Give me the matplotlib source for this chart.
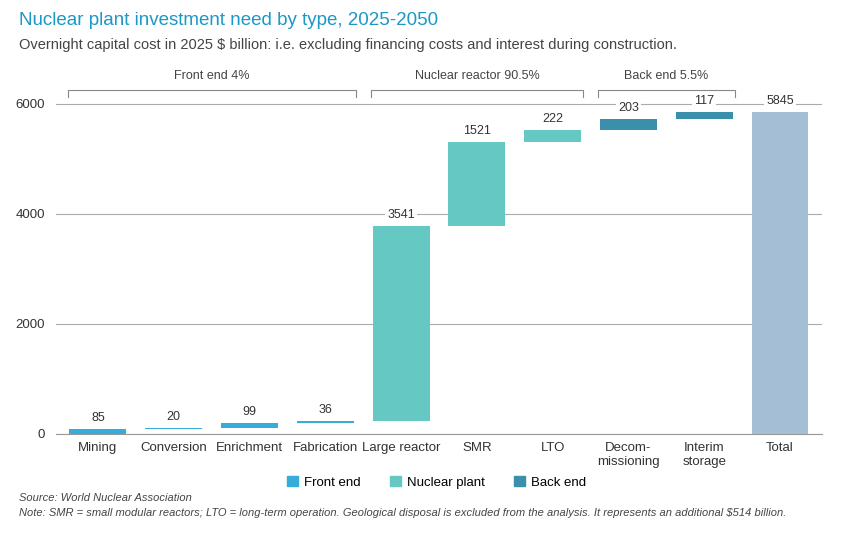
import matplotlib.pyplot as plt
import numpy as np
from matplotlib.patches import Patch

plt.rcParams['font.family'] = ['Liberation Sans', 'DejaVu Sans']

categories = ["Mining", "Conversion", "Enrichment", "Fabrication", "Large reactor", "SMR", "LTO", "Decom-\nmissioning", "Interim\nstorage", "Total"]
values = [85, 20, 99, 36, 3541, 1521, 222, 203, 117, 5845]
groups = ["front", "front", "front", "front", "plant", "plant", "plant", "back", "back", "total"]
colors = {"front": "#35ACD9", "plant": "#66C8C3", "back": "#3A8FAA", "total": "#A4BED6"}
brackets = [("Front end 4%", 0, 3), ("Nuclear reactor 90.5%", 4, 6), ("Back end 5.5%", 7, 8)]

fig = plt.figure(figsize=(8.65, 5.45), dpi=100)
ax = fig.add_axes([0.065, 0.204, 0.885, 0.646])
cum = 0
for i, (v, g) in enumerate(zip(values, groups)):
    b = 0 if g == "total" else cum
    ax.bar(i, v, bottom=b, width=0.75, color=colors[g], zorder=3)
    top = b + v
    ax.text(i, top + 90, str(v), ha="center", va="bottom", fontsize=9, color="#333333", zorder=4,
            bbox=dict(facecolor="white", edgecolor="none", pad=1.5))
    if g != "total":
        cum += v

ax.set_ylim(0, 6400)
ax.set_xlim(-0.55, 9.55)
ax.set_yticks([0, 2000, 4000, 6000])
ax.tick_params(axis="y", length=0, labelsize=9.5, colors="#333333", pad=8)
ax.tick_params(axis="x", length=0, labelsize=9.5, colors="#333333", pad=6)
ax.set_xticks(range(len(categories)))
ax.set_xticklabels(categories, va="top", linespacing=1.2)
ax.grid(axis="y", color="#aaaaaa", linewidth=0.8, zorder=0)
for s in ["top", "right", "left"]:
    ax.spines[s].set_visible(False)
ax.spines["bottom"].set_color("#999999")

by = 6250
for lab, a, b in brackets:
    x0, x1 = a - 0.4, b + 0.4
    ax.plot([x0, x0, x1, x1], [by - 130, by, by, by - 130], color="#888888", lw=0.8, clip_on=False)
    ax.text((x0 + x1) / 2, by + 140, lab, ha="center", va="bottom", fontsize=9, color="#444444")

fig.text(0.022, 0.962, "Nuclear plant investment need by type, 2025-2050", fontsize=13.5, color="#1B98C6", va="center")
fig.text(0.022, 0.918, "Overnight capital cost in 2025 $ billion: i.e. excluding financing costs and interest during construction.",
         fontsize=10.5, color="#444444", va="center")

handles = [Patch(color=colors[k]) for k in ["front", "plant", "back"]]
fig.legend(handles, ["Front end", "Nuclear plant", "Back end"], loc="center", bbox_to_anchor=(0.505, 0.115),
           ncol=3, frameon=False, fontsize=9.5, handlelength=0.8, handleheight=0.8, columnspacing=2.2, handletextpad=0.5)

fig.text(0.022, 0.086, "Source: World Nuclear Association", fontsize=8, style="italic", color="#444444", va="center")
fig.text(0.022, 0.058, "Note: SMR = small modular reactors; LTO = long-term operation. Geological disposal is excluded from the analysis. It represents an additional $514 billion.",
         fontsize=8, style="italic", color="#444444", va="center")

fig.savefig("out.png", dpi=100, facecolor="white")
